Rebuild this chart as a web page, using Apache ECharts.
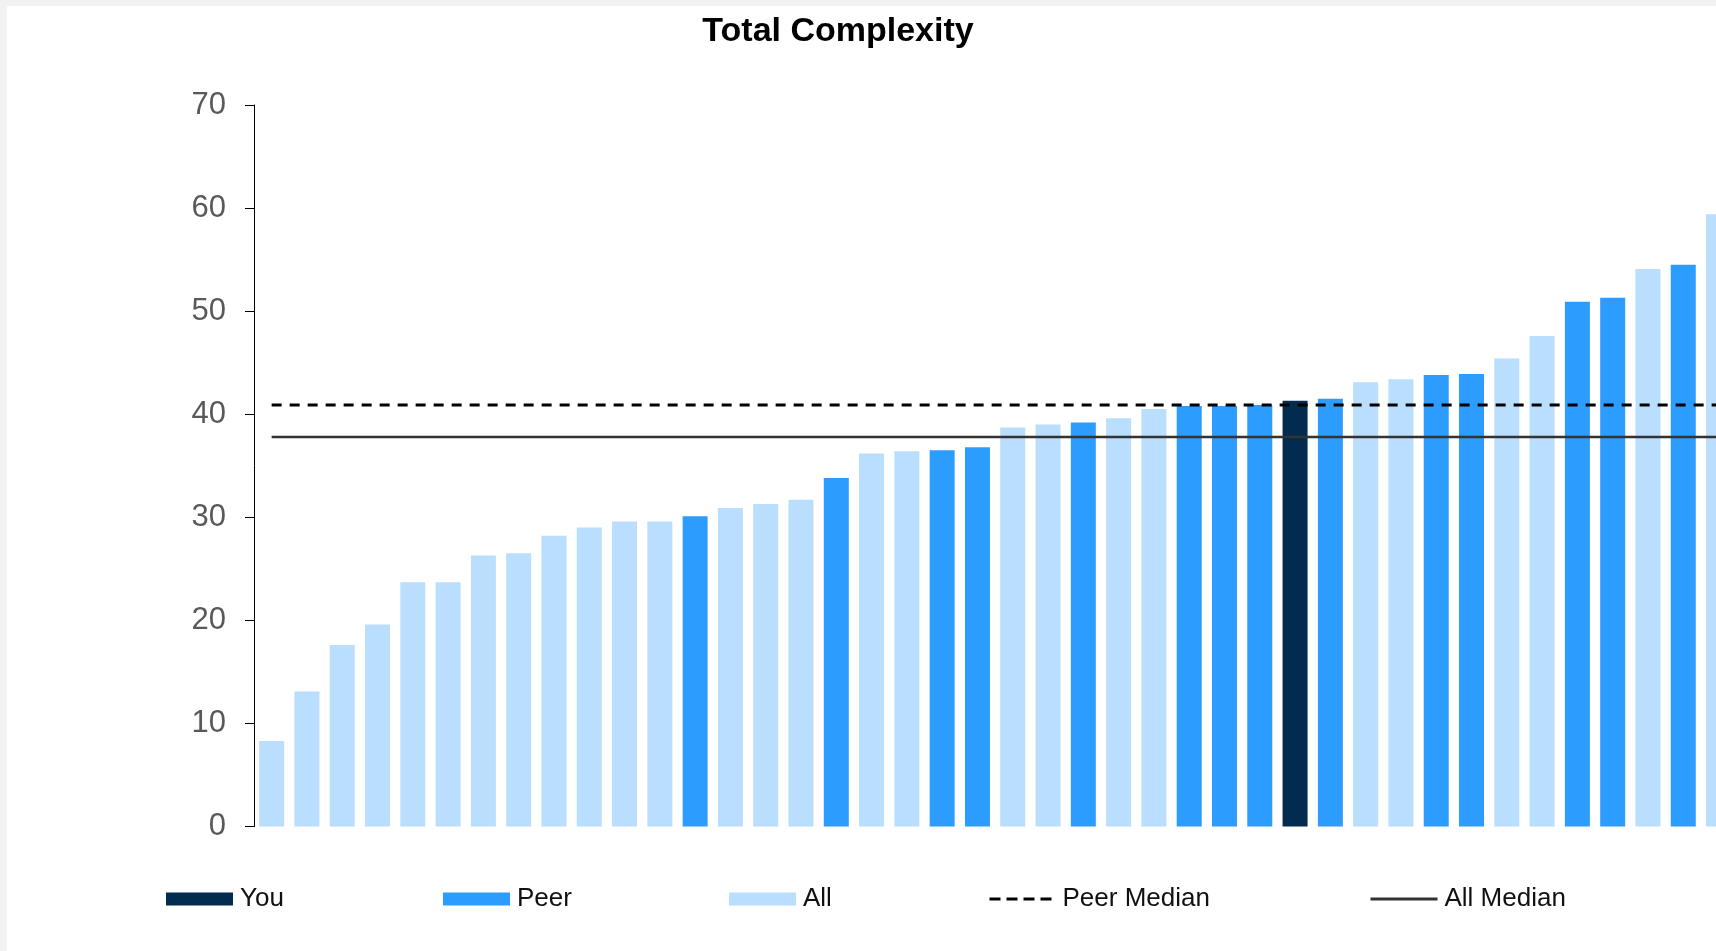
<!DOCTYPE html>
<html>
<head>
<meta charset="utf-8">
<title>Total Complexity</title>
<script src="https://cdn.jsdelivr.net/npm/echarts@6/dist/echarts.min.js"></script>
<style>
  html, body { margin: 0; padding: 0; background: #f2f2f2; overflow: hidden; }
  /* the plot runs on past the right edge of the window */
  #chart { position: absolute; left: 7px; top: 6px; width: 1739px; height: 945px; background: #fff; }
</style>
</head>
<body>
<div id="chart"></div>
<script>
// One bar per organisation, sorted by total complexity score
const categories = [
  'O01','O02','O03','O04','O05','O06','O07','O08','O09','O10','O11','O12','O13','O14',
  'O15','O16','O17','O18','O19','O20','O21','O22','O23','O24','O25','O26','O27','O28',
  'O29','O30','O31','O32','O33','O34','O35','O36','O37','O38','O39','O40','O41','O42'
];
const scores = [
  8.3, 13.1, 17.6, 19.6, 23.7, 23.7, 26.3, 26.5, 28.2, 29.0, 29.6, 29.6, 30.1, 30.9,
  31.3, 31.7, 33.8, 36.2, 36.4, 36.5, 36.8, 38.7, 39.0, 39.2, 39.6, 40.5, 40.8, 40.8,
  40.9, 41.3, 41.5, 43.1, 43.4, 43.8, 43.9, 45.4, 47.6, 50.9, 51.3, 54.1, 54.5, 59.4
];
// Which group each bar belongs to
const groups = [
  'All','All','All','All','All','All','All','All','All','All','All','All','Peer','All',
  'All','All','Peer','All','All','Peer','Peer','All','All','Peer','All','All','Peer','Peer',
  'Peer','You','Peer','All','All','Peer','Peer','All','All','Peer','Peer','All','Peer','All'
];
const peerMedian = 40.9;
const allMedian = 37.8;
const yTickValues = [0, 10, 20, 30, 40, 50, 60, 70];

const FONT = '"Liberation Sans", Arial, Helvetica, sans-serif';
const COLORS = { You: '#012b4f', Peer: '#2c9cfe', All: '#b9defe' };

function groupSeries(name) {
  return {
    name: name,
    type: 'bar',
    barWidth: 25,
    barGap: '-100%',
    itemStyle: { color: COLORS[name] },
    data: scores.map((v, i) => (groups[i] === name ? v : null)),
    z: 2
  };
}

function medianSeries(name, value, style) {
  return {
    name: name,
    type: 'line',
    symbol: 'none',
    silent: true,
    z: 4,
    lineStyle: style,
    itemStyle: { color: style.color },
    data: [[categories[0], value], [categories[categories.length - 1], value]]
  };
}

function legendAt(name, left, extra) {
  return Object.assign({
    data: [name],
    left: left,
    top: 880,
    padding: 0,
    icon: 'rect',
    itemWidth: 67,
    itemHeight: 13,
    itemGap: 0,
    selectedMode: false,
    textStyle: { fontFamily: FONT, fontSize: 26, color: '#111', padding: [0, 0, 0, 2] }
  }, extra || {});
}

const chart = echarts.init(document.getElementById('chart'), null, { renderer: 'canvas' });

chart.setOption({
  animation: false,
  backgroundColor: '#ffffff',
  title: {
    text: 'Total Complexity',
    left: 831,
    textAlign: 'center',
    top: 9,
    padding: 0,
    textStyle: { fontFamily: FONT, fontSize: 34, fontWeight: 'bold', color: '#000' }
  },
  legend: [
    legendAt('You', 159),
    legendAt('Peer', 436),
    legendAt('All', 722),
    legendAt('Peer Median', 981, {
      icon: null,
      itemWidth: 62,
      itemStyle: { opacity: 0 },
      lineStyle: { color: '#000', width: 3, type: [11, 6] },
      textStyle: { fontFamily: FONT, fontSize: 26, color: '#111', padding: [0, 0, 0, 6] }
    }),
    legendAt('All Median', 1362, {
      icon: null,
      itemStyle: { opacity: 0 },
      lineStyle: { color: '#333', width: 3, type: 'solid' }
    })
  ],
  grid: { left: 247, top: 99, bottom: 124.5, right: 9.8, containLabel: false },
  xAxis: {
    type: 'category',
    data: categories,
    boundaryGap: true,
    axisLine: { show: false },
    axisTick: { show: false },
    axisLabel: { show: false },
    splitLine: { show: false }
  },
  yAxis: {
    type: 'value',
    min: yTickValues[0],
    max: yTickValues[yTickValues.length - 1],
    interval: yTickValues[1] - yTickValues[0],
    axisLine: { show: true, lineStyle: { color: '#000', width: 1 } },
    axisTick: { show: true, length: 9, lineStyle: { color: '#000', width: 1 } },
    axisLabel: { margin: 28, fontFamily: FONT, fontSize: 31, color: '#595959' },
    splitLine: { show: false }
  },
  series: [
    groupSeries('You'),
    groupSeries('Peer'),
    groupSeries('All'),
    medianSeries('Peer Median', peerMedian, { color: '#000', width: 3, type: [10, 8] }),
    medianSeries('All Median', allMedian, { color: '#333', width: 2.5, type: 'solid' })
  ]
});
</script>
</body>
</html>
